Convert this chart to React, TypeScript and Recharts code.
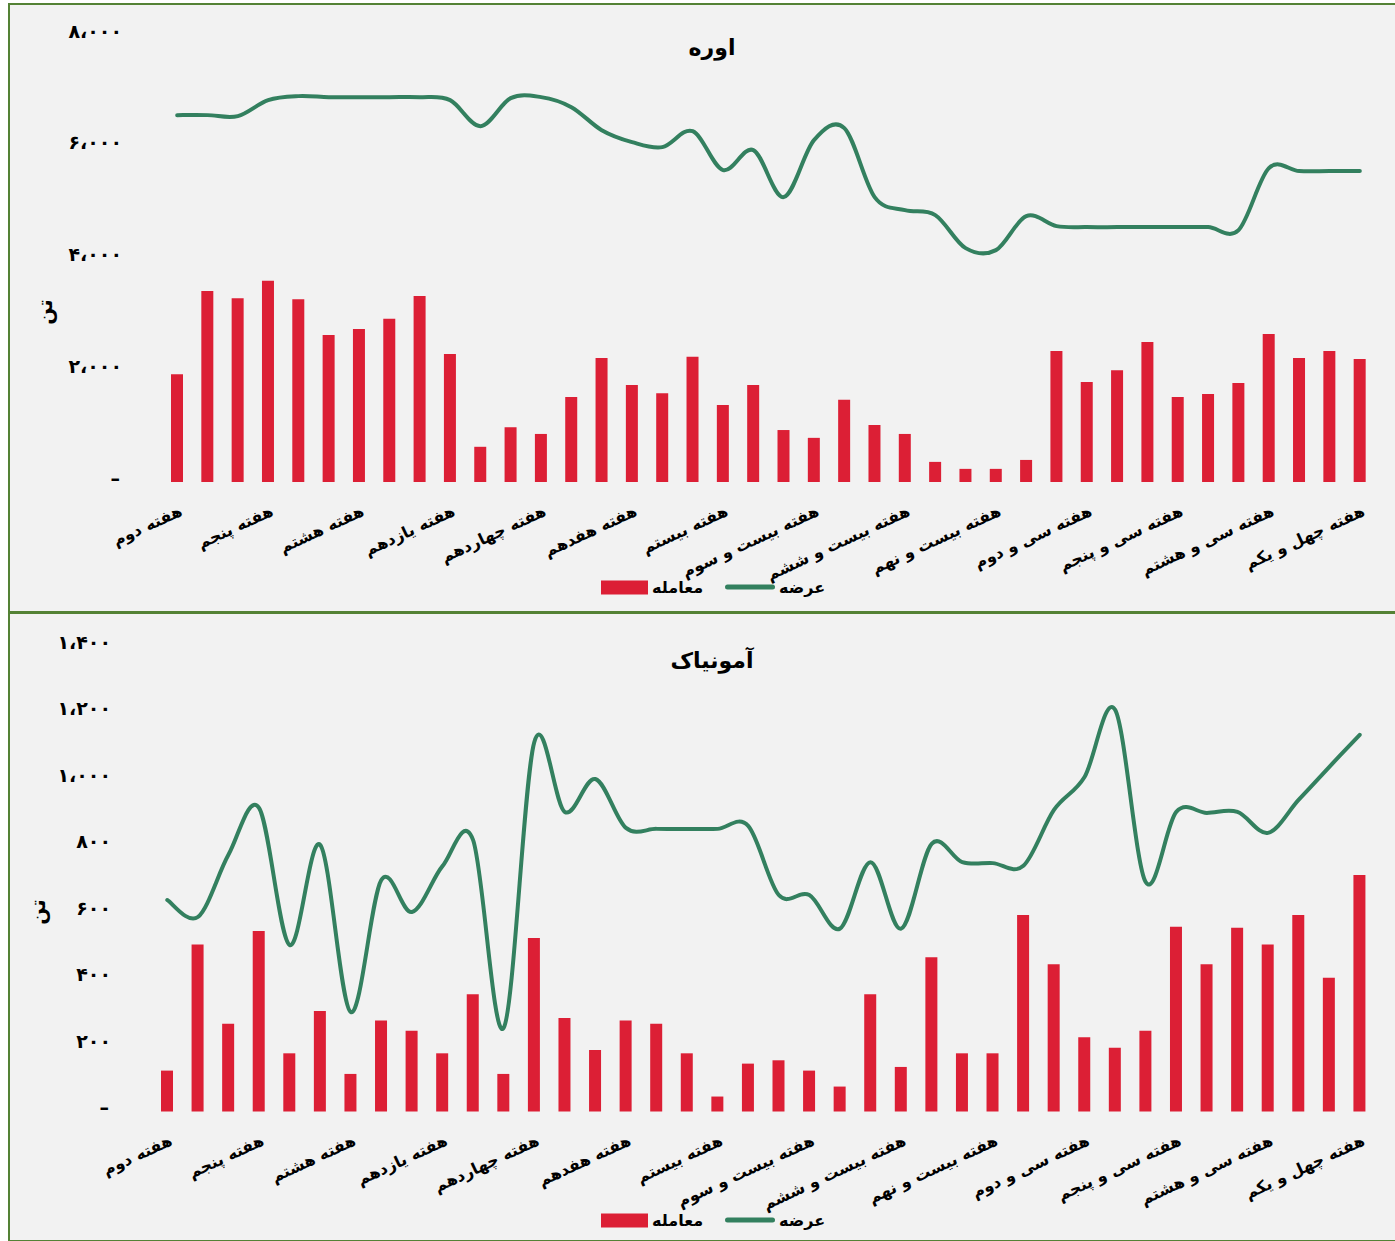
import React from 'react';
import { ComposedChart, Bar, Line, XAxis, YAxis } from 'recharts';

const weekNames = [
  'دوم', 'سوم', 'چهارم', 'پنجم', 'ششم', 'هفتم', 'هشتم', 'نهم', 'دهم', 'یازدهم',
  'دوازدهم', 'سیزدهم', 'چهاردهم', 'پانزدهم', 'شانزدهم', 'هفدهم', 'هجدهم', 'نوزدهم', 'بیستم', 'بیست و یکم',
  'بیست و دوم', 'بیست و سوم', 'بیست و چهارم', 'بیست و پنجم', 'بیست و ششم', 'بیست و هفتم', 'بیست و هشتم', 'بیست و نهم', 'سی‌ام', 'سی و یکم',
  'سی و دوم', 'سی و سوم', 'سی و چهارم', 'سی و پنجم', 'سی و ششم', 'سی و هفتم', 'سی و هشتم', 'سی و نهم', 'چهلم', 'چهل و یکم',
];
const weeks = weekNames.map((n) => `هفته ${n}`);

// اوره
const ureaTrade = [
  1930, 3420, 3290, 3600, 3270, 2630, 2740, 2920, 3330, 2290,
  630, 980, 860, 1520, 2220, 1735, 1590, 2240, 1380, 1735,
  930, 790, 1470, 1020, 860, 360, 235, 235, 395, 2345,
  1790, 2000, 2505, 1520, 1575, 1770, 2650, 2220, 2345, 2200,
];
const ureaOffer = [
  6566, 6566, 6548, 6834, 6906, 6888, 6888, 6888, 6888, 6834,
  6369, 6870, 6888, 6709, 6297, 6083, 5993, 6279, 5582, 5940,
  5099, 6118, 6333, 5099, 4866, 4777, 4186, 4150, 4759, 4580,
  4562, 4562, 4562, 4562, 4562, 4508, 5617, 5564, 5564, 5564,
];
const ureaTicks = [0, 2000, 4000, 6000, 8000];

// آمونیاک
const ammoniaTrade = [
  123, 502, 264, 543, 175, 302, 113, 274, 243, 175,
  353, 113, 522, 281, 185, 274, 264, 175, 45, 144,
  154, 123, 75, 353, 134, 464, 175, 175, 591, 443,
  223, 192, 243, 556, 443, 553, 502, 591, 402, 711,
];
const ammoniaOffer = [
  636, 585, 772, 913, 501, 802, 299, 696, 600, 738,
  817, 251, 1110, 901, 1000, 853, 850, 850, 850, 859,
  651, 651, 550, 750, 550, 805, 750, 747, 739, 907,
  1006, 1208, 690, 901, 898, 901, 838, 937, 1036, 1133,
];
const ammoniaTicks = [0, 200, 400, 600, 800, 1000, 1200, 1400];

const FONT = '"DejaVu Sans", sans-serif';
const RED = '#dc1f35';
const GREEN = '#33805f';
const BORDER = '#548235';

const faDigits = '۰۱۲۳۴۵۶۷۸۹';
const faNum = (v: number) =>
  v === 0
    ? '–'
    : v
        .toLocaleString('en-US')
        .replace(/\d/g, (d) => faDigits[Number(d)])
        .replace(/,/g, '،');

// Excel-style smoothed line (Catmull-Rom through the points)
const excelCurve = (context: any) => {
  let pts: [number, number][] = [];
  return {
    areaStart() {},
    areaEnd() {},
    lineStart() {
      pts = [];
    },
    point(x: number, y: number) {
      pts.push([x, y]);
    },
    lineEnd() {
      if (!pts.length) return;
      context.moveTo(pts[0][0], pts[0][1]);
      for (let i = 0; i < pts.length - 1; i++) {
        const p0 = pts[Math.max(i - 1, 0)];
        const p1 = pts[i];
        const p2 = pts[i + 1];
        const p3 = pts[Math.min(i + 2, pts.length - 1)];
        context.bezierCurveTo(
          p1[0] + (p2[0] - p0[0]) / 6,
          p1[1] + (p2[1] - p0[1]) / 6,
          p2[0] - (p3[0] - p1[0]) / 6,
          p2[1] - (p3[1] - p1[1]) / 6,
          p2[0],
          p2[1]
        );
      }
    },
  };
};

const WeekTick = ({ x, y, payload }: any) => (
  <g transform={`translate(${x + 1},${y + 14})`}>
    <text
      transform="rotate(-25)"
      textAnchor="end"
      dy="0.75em"
      fontSize={16}
      fontWeight="bold"
      fontFamily={FONT}
      fill="#000"
    >
      {payload.value}
    </text>
  </g>
);

const ValueTick = ({ x, y, payload }: any) => (
  <text
    x={x}
    y={y - 3}
    textAnchor="end"
    dominantBaseline="middle"
    fontSize={19}
    fontWeight="bold"
    fontFamily={FONT}
    letterSpacing={2}
    fill="#000"
  >
    {faNum(payload.value)}
  </text>
);

interface PanelProps {
  top: number;
  height: number;
  title: string;
  trade: number[];
  offer: number[];
  ticks: number[];
  plotTop: number;
  plotBottom: number;
  plotLeft: number;
  tickMargin: number;
  unitPos: [number, number];
  legendY: number;
}

function Panel(p: PanelProps) {
  const data = weeks.map((w, i) => ({ week: w, trade: p.trade[i], offer: p.offer[i] }));
  const xAxisHeight = 100;
  return (
    <>
      <div
        style={{
          position: 'absolute',
          left: 8,
          top: p.top,
          width: 1400,
          height: p.height,
          border: `2px solid ${BORDER}`,
          background: '#f2f2f2',
          boxSizing: 'border-box',
        }}
      />
      <div style={{ position: 'absolute', left: 0, top: p.top }}>
        <ComposedChart
          width={1395}
          height={p.height}
          data={data}
          barCategoryGap={0}
          margin={{ top: p.plotTop, right: 20, bottom: p.height - p.plotBottom - xAxisHeight, left: 0 }}
        >
          <XAxis
            dataKey="week"
            interval={2}
            axisLine={false}
            tickLine={false}
            height={xAxisHeight}
            tick={<WeekTick />}
          />
          <YAxis
            width={p.plotLeft}
            domain={[p.ticks[0], p.ticks[p.ticks.length - 1]]}
            ticks={p.ticks}
            axisLine={false}
            tickLine={false}
            tickMargin={p.tickMargin}
            tick={<ValueTick />}
          />
          <Bar dataKey="trade" name="معامله" fill={RED} barSize={12} isAnimationActive={false} />
          <Line
            dataKey="offer"
            name="عرضه"
            type={excelCurve as any}
            stroke={GREEN}
            strokeWidth={4}
            strokeLinecap="round"
            dot={false}
            activeDot={false}
            isAnimationActive={false}
          />
        </ComposedChart>
      </div>
      <div
        style={{
          position: 'absolute',
          left: 712,
          top: p.top + (p.top < 100 ? 44 : 48),
          transform: 'translate(-50%, -50%)',
          fontFamily: FONT,
          fontWeight: 'bold',
          fontSize: 22,
          whiteSpace: 'nowrap',
        }}
      >
        {p.title}
      </div>
      <div
        style={{
          position: 'absolute',
          left: p.unitPos[0],
          top: p.unitPos[1],
          transform: 'translate(-50%, -50%) rotate(-90deg)',
          fontFamily: FONT,
          fontWeight: 'bold',
          fontSize: 20,
          whiteSpace: 'nowrap',
        }}
      >
        تن
      </div>
      <div
        style={{
          position: 'absolute',
          left: 601,
          top: p.legendY,
          transform: 'translateY(-50%)',
          display: 'flex',
          alignItems: 'center',
          fontFamily: FONT,
          fontWeight: 'bold',
          fontSize: 16,
          whiteSpace: 'nowrap',
        }}
      >
        <span style={{ width: 47, height: 14, background: RED, display: 'inline-block' }} />
        <span style={{ marginLeft: 4 }}>معامله</span>
        <span
          style={{ width: 50, height: 5, borderRadius: 3, background: GREEN, display: 'inline-block', marginLeft: 22 }}
        />
        <span style={{ marginLeft: 4 }}>عرضه</span>
      </div>
    </>
  );
}

export default function App() {
  return (
    <div
      style={{
        position: 'absolute',
        left: 0,
        top: 0,
        width: 1395,
        height: 1241,
        overflow: 'hidden',
        background: '#fff',
      }}
    >
      <Panel
        top={3}
        height={610}
        title="اوره"
        trade={ureaTrade}
        offer={ureaOffer}
        ticks={ureaTicks}
        plotTop={32}
        plotBottom={479}
        plotLeft={162}
        tickMargin={34}
        unitPos={[45, 312]}
        legendY={587}
      />
      <Panel
        top={612}
        height={630}
        title="آمونیاک"
        trade={ammoniaTrade}
        offer={ammoniaOffer}
        ticks={ammoniaTicks}
        plotTop={34}
        plotBottom={499.5}
        plotLeft={152}
        tickMargin={35}
        unitPos={[38, 912]}
        legendY={1220}
      />
    </div>
  );
}
